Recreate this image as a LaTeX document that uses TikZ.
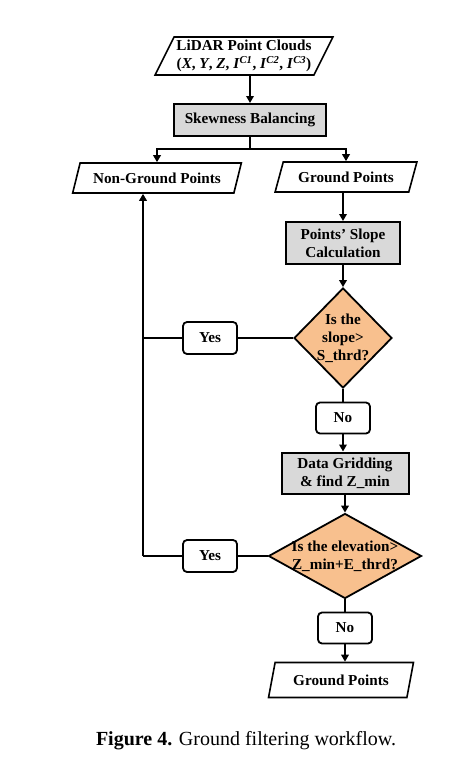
\documentclass[tikz,border=0pt]{standalone}
\usepackage{fontspec}
\setmainfont{Liberation Serif}
\usepackage{tikz}
\usetikzlibrary{arrows.meta, shapes.geometric}

\definecolor{boxgray}{HTML}{D9D9D9}
\definecolor{decorange}{HTML}{F8C08E}

\begin{document}
\begin{tikzpicture}[x=1pt, y=-1pt,
    every node/.style={font=\bfseries\fontsize{15.2}{18}\selectfont, align=center},
    process/.style={draw, line width=2pt, fill=boxgray, inner sep=1pt},
    io/.style={draw, line width=1.6pt, trapezium, trapezium left angle=60,
        trapezium right angle=120, trapezium stretches=true, inner sep=0pt},
    decision/.style={draw, line width=1.8pt, diamond, fill=decorange, inner sep=0pt},
    answer/.style={draw, line width=1.8pt, rounded corners=4pt,
        minimum width=54pt, minimum height=32pt, inner sep=1pt},
    line/.style={line width=1.8pt},
    arrow/.style={line width=1.8pt, -{Triangle[length=7pt, width=7.5pt]}}]
\useasboundingbox (0,0) rectangle (453,772);

% Input and first step
\node[io, minimum width=178pt, minimum height=38pt] (lidar) at (244,56)
    {LiDAR Point Clouds\\(\textit{X}, \textit{Y}, \textit{Z}, \textit{I}\textsuperscript{\textit{C1}},
    \textit{I}\textsuperscript{\textit{C2}}, \textit{I}\textsuperscript{\textit{C3}})};
\node[process, minimum width=152pt, minimum height=32pt] (skew) at (250,120) {Skewness Balancing};

% Split into two point sets
\node[io, minimum width=169pt, minimum height=30pt] (ngp) at (157,178) {Non-Ground Points};
\node[io, minimum width=142pt, minimum height=30pt] (gp) at (346,177) {Ground Points};

% Slope test
\node[process, minimum width=114pt, minimum height=42pt] (slope) at (343,243)
    {Points' Slope\\Calculation};
\node[decision, minimum width=98pt, minimum height=100pt] (slopetest) at (343,338) {};
\node (slopetxt) at (slopetest) {Is the\\slope>\\S\_thrd?};
\node[answer] (yes1) at (210,338) {Yes};
\node[answer, minimum height=31pt] (no1) at (343,418) {No};

% Elevation test
\node[process, minimum width=127pt, minimum height=41pt] (grid) at (345,473)
    {Data Gridding\\\& find Z\_min};
\node[decision, minimum width=153pt, minimum height=85pt] (elevtest) at (345,556) {};
\node (elevtxt) at (elevtest) {Is the elevation>\\Z\_min+E\_thrd?};
\node[answer] (yes2) at (210,556) {Yes};
\node[answer, minimum height=31pt] (no2) at (345,628) {No};
\node[io, trapezium left angle=66, trapezium right angle=114,
    minimum width=145pt, minimum height=35pt] (gpout) at (341,680) {Ground Points};

\coordinate (split) at (250,149);
\coordinate (turn) at (143,556);

% Connectors
\draw[arrow] (lidar.south -| skew.north) -- (skew.north);
\draw[line] (skew.south) -- (split);
\draw[arrow] (split) -| (ngp.north);
\draw[arrow] (split) -| (gp.north);
\draw[arrow] (gp.south -| slope.north) -- (slope.north);
\draw[arrow] (slope.south) -- (slopetest.north);
\draw[line] (slopetest.west) -- (yes1.east);
\draw[line] (yes1.west) -- (yes1.west -| turn);
\draw[line] (slopetest.south) -- (no1.north);
\draw[arrow] (no1.south) -- (no1.south |- grid.north);
\draw[arrow] (grid.south) -- (elevtest.north);
\draw[line] (elevtest.west) -- (yes2.east);
\draw[line] (yes2.west) -- (turn);
\draw[arrow] (turn) -- (turn |- ngp.south);
\draw[line] (elevtest.south) -- (no2.north);
\draw[arrow] (no2.south) -- (no2.south |- gpout.north);

% Caption
\node[font=\fontsize{20}{24}\selectfont] (caption) at (246,741)
    {\textbf{Figure 4.} Ground filtering workflow.};
\end{tikzpicture}
\end{document}
